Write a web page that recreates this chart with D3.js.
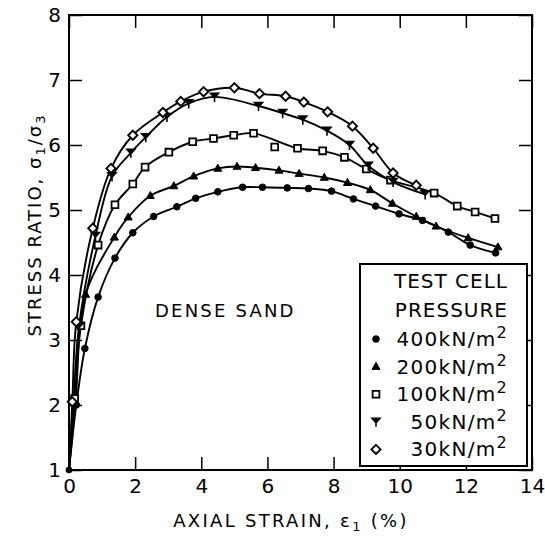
<!DOCTYPE html>
<html><head><meta charset="utf-8">
<script src="https://cdn.jsdelivr.net/npm/d3@7"></script>
<style>
html,body{margin:0;padding:0;background:#fff;}
svg{display:block;}
text{font-family:"DejaVu Sans",sans-serif;fill:#000;}
</style></head>
<body>
<script>
// ---- data ----
const xTicks = [0, 2, 4, 6, 8, 10, 12, 14];
const yTicks = [1, 2, 3, 4, 5, 6, 7, 8];
const pressureLabels = ["400kN/m", "200kN/m", "100kN/m", "50kN/m", "30kN/m"];
const legendTitle = ["TEST CELL", "PRESSURE"];

const s400 = [[0,1],[0.22,2.0],[0.48,2.87],[0.88,3.66],[1.39,4.26],[1.93,4.65],[2.56,4.9],[3.26,5.05],[3.83,5.18],[4.5,5.28],[5.25,5.35],[5.85,5.35],[6.6,5.34],[7.24,5.33],[7.94,5.29],[8.6,5.17],[9.27,5.06],[9.98,4.94],[10.69,4.84],[11.47,4.66],[12.13,4.46],[12.9,4.34]];
const s200 = [[0,1],[0.2,2.05],[0.5,3.7],[1.37,4.58],[1.79,4.89],[2.46,5.22],[3.17,5.37],[3.77,5.52],[4.5,5.64],[5.08,5.67],[5.64,5.65],[6.35,5.61],[6.96,5.56],[7.72,5.5],[8.42,5.42],[9.11,5.31],[9.78,5.1],[10.5,4.9],[11.1,4.75],[12.07,4.57],[12.97,4.43]];
const s100 = [[0,1],[0.17,2.1],[0.36,3.22],[0.88,4.46],[1.39,5.08],[1.93,5.4],[2.3,5.66],[3.02,5.89],[3.74,6.05],[4.37,6.1],[4.98,6.15],[5.58,6.18],[6.91,5.95],[7.67,5.91],[8.33,5.81],[8.99,5.63],[9.72,5.46],[11.04,5.26],[11.74,5.06],[12.28,4.97],[12.88,4.87]];
const s100Outliers = [[6.22,5.97]];
const s50 = [[0,1],[0.13,2.0],[0.3,3.2],[0.8,4.6],[1.3,5.52],[1.87,5.88],[2.32,6.12],[2.96,6.43],[3.62,6.64],[4.4,6.74],[5.73,6.6],[6.46,6.49],[7.07,6.39],[7.8,6.22],[8.48,6.0],[9.05,5.68],[9.8,5.43],[10.77,5.24]];
const s30 = [[0,1],[0.1,2.05],[0.22,3.28],[0.72,4.72],[1.27,5.64],[1.93,6.15],[2.84,6.5],[3.38,6.67],[4.07,6.82],[5.0,6.88],[5.76,6.79],[6.55,6.75],[7.1,6.66],[7.82,6.51],[8.57,6.29],[9.2,5.95],[9.8,5.57],[10.5,5.38]];

const seriesData = [s400, s200, s100, s50, s30];
const seriesSymbols = ["circle", "triangle", "square", "wye", "diamond"];

// ---- drawing ----
const W = 545, H = 537;
const svg = d3.select("body").append("svg").attr("width", W).attr("height", H);

const x = d3.scaleLinear().domain([0, 14]).range([69, 532]);
const y = d3.scaleLinear().domain([1, 8]).range([470, 15]);

function symbolPath(kind) {
  switch (kind) {
    case "circle": return "M3.3,0A3.3,3.3,0,1,1,-3.3,0A3.3,3.3,0,1,1,3.3,0Z";
    case "triangle": return "M0,-4.2L4,2.8L-4,2.8Z";
    case "square": return "M-3.4,-3.4H3.4V3.4H-3.4Z";
    case "wye": return "M-4,-3.5L4,-3.5L0,1Z M0,1L0,5";
    case "diamond": return "M0,-4.6L4.6,0L0,4.6L-4.6,0Z";
  }
}
function drawSymbol(g, kind) {
  const p = g.append("path").attr("d", symbolPath(kind)).attr("stroke", "#000");
  if (kind === "circle") p.attr("fill", "#000").attr("stroke-width", 1);
  else if (kind === "triangle") p.attr("fill", "#000").attr("stroke-width", 1);
  else if (kind === "square") p.attr("fill", "#fff").attr("stroke-width", 1.8);
  else if (kind === "wye") p.attr("fill", "#000").attr("stroke-width", 1.6);
  else p.attr("fill", "#fff").attr("stroke-width", 1.9);
}

// frame
svg.append("rect").attr("x", x(0)).attr("y", y(8)).attr("width", x(14) - x(0)).attr("height", y(1) - y(8))
  .attr("fill", "none").attr("stroke", "#000").attr("stroke-width", 2);

const TK = 13;
const gx = svg.append("g").attr("transform", `translate(0,${y(1)})`)
  .call(d3.axisBottom(x).tickValues(xTicks).tickSize(-TK).tickPadding(9).tickFormat(d3.format("d")));
const gxt = svg.append("g").attr("transform", `translate(0,${y(8)})`)
  .call(d3.axisTop(x).tickValues(xTicks).tickSize(-TK).tickFormat(""));
const gy = svg.append("g").attr("transform", `translate(${x(0)},0)`)
  .call(d3.axisLeft(y).tickValues(yTicks).tickSize(-TK).tickPadding(8).tickFormat(d3.format("d")));
const gyr = svg.append("g").attr("transform", `translate(${x(14)},0)`)
  .call(d3.axisRight(y).tickValues(yTicks).tickSize(-TK).tickFormat(""));

[gx, gxt, gy, gyr].forEach(g => {
  g.select(".domain").remove();
  g.selectAll(".tick line").attr("stroke", "#000").attr("stroke-width", 1.5);
  g.selectAll(".tick text").attr("font-family", "DejaVu Sans").attr("font-size", 20).attr("fill", "#000");
});

// curves
const line = d3.line().x(d => x(d[0])).y(d => y(d[1])).curve(d3.curveCatmullRom.alpha(0.5));
seriesData.forEach((s, i) => {
  svg.append("path").attr("d", line(s)).attr("fill", "none").attr("stroke", "#000").attr("stroke-width", 1.9);
});
// markers
seriesData.forEach((s, i) => {
  s.slice(1).forEach(d => {
    const g = svg.append("g").attr("transform", `translate(${x(d[0])},${y(d[1])})`);
    drawSymbol(g, seriesSymbols[i]);
  });
});
s100Outliers.forEach(d => {
  const g = svg.append("g").attr("transform", `translate(${x(d[0])},${y(d[1])})`);
  drawSymbol(g, "square");
});
svg.append("circle").attr("cx", x(0)).attr("cy", y(1)).attr("r", 3.3).attr("fill", "#000");

// annotation
svg.append("text").attr("x", 155).attr("y", 317).attr("font-size", 18).attr("letter-spacing", 2.2).text("DENSE SAND");

// legend
const lg = svg.append("g");
lg.append("rect").attr("x", 360).attr("y", 264).attr("width", 167).attr("height", 202)
  .attr("fill", "#fff").attr("stroke", "#000").attr("stroke-width", 2);
legendTitle.forEach((t, i) => {
  lg.append("text").attr("x", 508).attr("y", 288 + i * 29).attr("text-anchor", "end")
    .attr("font-size", 20).attr("letter-spacing", 1).text(t);
});
pressureLabels.forEach((t, i) => {
  const by = 346 + i * 27.6;
  const tx = lg.append("text").attr("x", 508).attr("y", by).attr("text-anchor", "end")
    .attr("font-size", 20).attr("letter-spacing", 1.3);
  tx.append("tspan").text(t);
  tx.append("tspan").attr("dy", -8).attr("font-size", 16).text("2");
  const g = lg.append("g").attr("transform", `translate(376,${by - 7})`);
  drawSymbol(g, seriesSymbols[i]);
});

// axis titles
const xt = svg.append("text").attr("x", 291).attr("y", 527).attr("text-anchor", "middle")
  .attr("font-size", 18).attr("letter-spacing", 2.3);
xt.append("tspan").text("AXIAL STRAIN,  ε");
xt.append("tspan").attr("dy", 4).attr("font-size", 13).text("1");
xt.append("tspan").attr("dy", -4).text(" (%)");

const yt = svg.append("text").attr("transform", "translate(41,225) rotate(-90)").attr("text-anchor", "middle")
  .attr("font-size", 18).attr("letter-spacing", 2);
yt.append("tspan").text("STRESS RATIO,  σ");
yt.append("tspan").attr("dy", 4).attr("font-size", 13).text("1");
yt.append("tspan").attr("dy", -4).text("/σ");
yt.append("tspan").attr("dy", 4).attr("font-size", 13).text("3");
</script>
</body></html>
